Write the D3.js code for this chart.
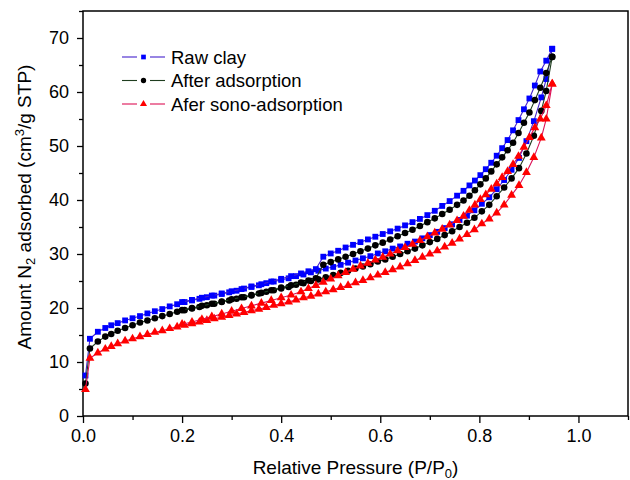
<!DOCTYPE html>
<html>
<head>
<meta charset="utf-8">
<script src="https://cdn.jsdelivr.net/npm/d3@7"></script>
<style>
  body { margin: 0; background: #fff; }
  text { font-family: Arial, "Liberation Sans", sans-serif; }
</style>
</head>
<body>
<div id="viz"></div>
<script>
/* N2 isotherms - three samples, adsorption + desorption branches */

// relative pressure of the adsorption points
var pAds = [0.005, 0.014, 0.03, 0.045, 0.057, 0.07, 0.085, 0.1, 0.115, 0.13, 0.145, 0.16, 0.175, 0.19,
  0.205, 0.22, 0.235, 0.25, 0.265, 0.28, 0.295, 0.31, 0.325, 0.34, 0.355, 0.37, 0.385, 0.4, 0.415, 0.43,
  0.445, 0.46, 0.475, 0.49, 0.505, 0.52, 0.535, 0.55, 0.565, 0.58, 0.595, 0.61, 0.625, 0.64, 0.655, 0.67,
  0.685, 0.7, 0.715, 0.73, 0.745, 0.76, 0.775, 0.79, 0.805, 0.82, 0.835, 0.85, 0.865, 0.88, 0.895, 0.91,
  0.925, 0.935, 0.947];

// relative pressure of the desorption points
var pDes = [0.947, 0.935, 0.923, 0.912, 0.901, 0.89, 0.879, 0.868, 0.857, 0.846, 0.835, 0.824, 0.813,
  0.802, 0.791, 0.78, 0.768, 0.755, 0.74, 0.725, 0.71, 0.695, 0.68, 0.665, 0.65, 0.635, 0.62, 0.605, 0.59,
  0.575, 0.56, 0.545, 0.53, 0.515, 0.5, 0.485, 0.47, 0.455, 0.44, 0.42, 0.4, 0.38, 0.36, 0.34, 0.32, 0.3,
  0.28, 0.26, 0.24, 0.22, 0.2];

var rawAds = [7.5, 14.3, 15.6, 16.3, 16.8, 17.2, 17.7, 18.1, 18.5, 19.0, 19.4, 19.8, 20.3, 20.7,
  21.1, 21.4, 21.7, 22.0, 22.3, 22.6, 22.9, 23.2, 23.6, 23.9, 24.2, 24.6, 24.9, 25.2, 25.5, 25.9,
  26.2, 26.6, 26.9, 27.3, 27.6, 28.0, 28.4, 28.8, 29.2, 29.6, 30.1, 30.5, 31.0, 31.4, 31.9, 32.3,
  32.9, 33.5, 34.1, 34.8, 35.5, 36.3, 37.1, 38.1, 39.3, 40.5, 42.0, 43.7, 45.6, 47.8, 50.9, 54.6,
  59.0, 62.4, 68.0];
var rawDes = [68.0, 65.8, 63.8, 61.2, 58.8, 56.8, 54.8, 52.9, 51.1, 49.6, 48.2, 46.9, 45.7,
  44.6, 43.6, 42.7, 41.7, 40.8, 39.8, 38.9, 38.0, 37.2, 36.5, 35.9, 35.3, 34.7, 34.2, 33.7, 33.2,
  32.7, 32.2, 31.7, 31.2, 30.6, 30.1, 29.5, 27.2, 26.8, 26.4, 25.9, 25.4, 24.9, 24.4, 24.0, 23.5, 23.1,
  22.7, 22.3, 21.9, 21.5, 21.1];

var afterAds = [6.0, 12.5, 13.8, 14.7, 15.2, 15.8, 16.3, 16.8, 17.3, 17.7, 18.1, 18.5, 18.9, 19.3,
  19.6, 19.9, 20.2, 20.5, 20.8, 21.1, 21.4, 21.7, 22.0, 22.3, 22.7, 23.0, 23.3, 23.6, 23.9, 24.3,
  24.6, 25.0, 25.3, 25.7, 26.1, 26.5, 26.9, 27.3, 27.7, 28.1, 28.6, 29.0, 29.5, 30.0, 30.5, 31.0,
  31.6, 32.2, 32.8, 33.5, 34.2, 35.0, 35.8, 36.7, 37.9, 39.1, 40.7, 42.3, 44.0, 45.9, 48.6, 51.9,
  56.5, 60.2, 66.5];
var afterDes = [66.5, 63.5, 60.8, 58.5, 56.2, 54.3, 52.4, 50.6, 49.2, 47.9, 46.6, 45.3, 44.0,
  42.9, 41.8, 40.8, 39.9, 39.1, 38.2, 37.4, 36.6, 35.9, 35.2, 34.5, 33.9, 33.3, 32.7, 32.1, 31.6,
  31.0, 30.5, 30.0, 29.5, 29.0, 28.5, 28.0, 25.5, 25.1, 24.7, 24.2, 23.8, 23.3, 22.8, 22.4, 22.0, 21.6,
  21.2, 20.8, 20.4, 20.0, 19.6];

var sonoAds = [4.9, 10.7, 11.7, 12.4, 12.9, 13.4, 13.9, 14.3, 14.7, 15.1, 15.5, 15.8, 16.2, 16.5,
  16.8, 17.1, 17.4, 17.7, 18.0, 18.3, 18.6, 18.9, 19.2, 19.5, 19.8, 20.1, 20.5, 20.8, 21.1, 21.5,
  21.9, 22.2, 22.6, 23.0, 23.4, 23.8, 24.2, 24.7, 25.1, 25.6, 26.1, 26.6, 27.1, 27.6, 28.2, 28.8,
  29.4, 30.0, 30.6, 31.3, 32.0, 32.8, 33.6, 34.5, 35.6, 36.5, 37.6, 39.1, 40.9, 42.7, 45.1, 47.9,
  51.5, 55.0, 61.5];
var sonoDes = [61.5, 57.5, 55.0, 53.4, 51.6, 49.8, 48.1, 46.6, 45.3, 44.2, 43.0, 42.0, 41.0,
  40.1, 39.1, 38.1, 37.0, 36.2, 35.4, 34.6, 33.9, 33.2, 32.5, 31.8, 31.2, 30.6, 30.0, 29.4, 28.9,
  28.3, 27.8, 27.2, 26.6, 26.0, 25.4, 24.8, 24.2, 23.6, 23.0, 22.4, 21.9, 21.4, 20.9, 20.4, 19.9, 19.4,
  18.9, 18.4, 17.9, 17.4, 17.0];

var labels = ['Raw clay', 'After adsorption', 'Afer sono-adsorption'];
var xTicks = [0, 0.2, 0.4, 0.6, 0.8, 1.0];
var yTicks = [0, 10, 20, 30, 40, 50, 60, 70];

var series = [
  { name: labels[0], ads: rawAds, des: rawDes, line: '#4422cc', fill: '#0000ff', sym: d3.symbolSquare, size: 34 },
  { name: labels[1], ads: afterAds, des: afterDes, line: '#1f3d1f', fill: '#000000', sym: d3.symbolCircle, size: 34 },
  { name: labels[2], ads: sonoAds, des: sonoDes, line: '#dd1155', fill: '#ff0000', sym: d3.symbolTriangle, size: 34 }
];

var W = 630, H = 480,
    margin = { top: 11, right: 2, bottom: 64, left: 83 },
    width = W - margin.left - margin.right,
    height = H - margin.top - margin.bottom;

var svg = d3.select('#viz').append('svg')
    .attr('width', W)
    .attr('height', H);

svg.append('rect').attr('width', W).attr('height', H).attr('fill', '#fff');

var g = svg.append('g')
    .attr('transform', 'translate(' + margin.left + ',' + margin.top + ')');

var x = d3.scaleLinear().domain([0, 1.1]).range([0, width]);
var y = d3.scaleLinear().domain([0, 75]).range([height, 0]);

// minor ticks first, then major with labels
g.append('g')
  .attr('transform', 'translate(0,' + height + ')')
  .call(d3.axisBottom(x).tickValues([0.1, 0.3, 0.5, 0.7, 0.9, 1.1]).tickSize(4).tickFormat(''))
  .call(function(a) { a.select('.domain').remove(); });
g.append('g')
  .call(d3.axisLeft(y).tickValues([5, 15, 25, 35, 45, 55, 65, 75]).tickSize(4).tickFormat(''))
  .call(function(a) { a.select('.domain').remove(); });

var xAxis = g.append('g')
  .attr('transform', 'translate(0,' + height + ')')
  .call(d3.axisBottom(x).tickValues(xTicks).tickSize(7).tickPadding(6).tickFormat(d3.format('.1f')));
var yAxis = g.append('g')
  .call(d3.axisLeft(y).tickValues(yTicks).tickSize(6).tickPadding(8));

[xAxis, yAxis].forEach(function(a) {
  a.select('.domain').remove();
  a.selectAll('text').attr('font-size', 18).attr('fill', '#000')
    .style('font-family', 'Arial, "Liberation Sans", sans-serif');
});
g.selectAll('.tick line').attr('stroke', '#000').attr('stroke-width', 1.3);

// frame
g.append('rect')
  .attr('width', width).attr('height', height)
  .attr('fill', 'none').attr('stroke', '#000').attr('stroke-width', 1.5);

var line = d3.line()
  .x(function(d) { return x(d[0]); })
  .y(function(d) { return y(d[1]); });

series.forEach(function(s) {
  var ads = pAds.map(function(p, i) { return [p, s.ads[i]]; });
  var des = pDes.map(function(p, i) { return [p, s.des[i]]; });
  [ads, des].forEach(function(pts) {
    g.append('path')
      .datum(pts)
      .attr('d', line)
      .attr('fill', 'none')
      .attr('stroke', s.line)
      .attr('stroke-width', 1.1);
    g.selectAll(null).data(pts).enter().append('path')
      .attr('d', d3.symbol().type(s.sym).size(s.size))
      .attr('transform', function(d) { return 'translate(' + x(d[0]) + ',' + y(d[1]) + ')'; })
      .attr('fill', s.fill);
  });
});

// legend
var legend = svg.append('g')
  .selectAll('g').data(series).enter().append('g')
  .attr('transform', function(d, i) { return 'translate(122,' + (57 + i * 23.5) + ')'; });

legend.append('line').attr('x1', 0).attr('x2', 15).attr('stroke', function(d) { return d.line; }).attr('stroke-width', 1.1);
legend.append('line').attr('x1', 28).attr('x2', 43).attr('stroke', function(d) { return d.line; }).attr('stroke-width', 1.1);
legend.append('path')
  .attr('transform', 'translate(21.5,0)')
  .attr('d', function(d) { return d3.symbol().type(d.sym).size(22)(); })
  .attr('fill', function(d) { return d.fill; });
legend.append('text')
  .attr('x', 49).attr('y', 6.5)
  .attr('font-size', 18.5)
  .text(function(d) { return d.name; });

// axis titles
var xt = svg.append('text')
  .attr('x', margin.left + x(0.55)).attr('y', 474)
  .attr('text-anchor', 'middle').attr('font-size', 19);
xt.append('tspan').text('Relative Pressure (P/P');
xt.append('tspan').attr('font-size', 13).attr('dy', 4).text('0');
xt.append('tspan').attr('dy', -4).text(')');

var yt = svg.append('text')
  .attr('transform', 'translate(31,207) rotate(-90)')
  .attr('text-anchor', 'middle').attr('font-size', 19);
yt.append('tspan').text('Amount N');
yt.append('tspan').attr('font-size', 13).attr('dy', 4).text('2');
yt.append('tspan').attr('dy', -4).text(' adsorbed (cm');
yt.append('tspan').attr('font-size', 13).attr('dy', -7).text('3');
yt.append('tspan').attr('dy', 7).text('/g STP)');
</script>
</body>
</html>
